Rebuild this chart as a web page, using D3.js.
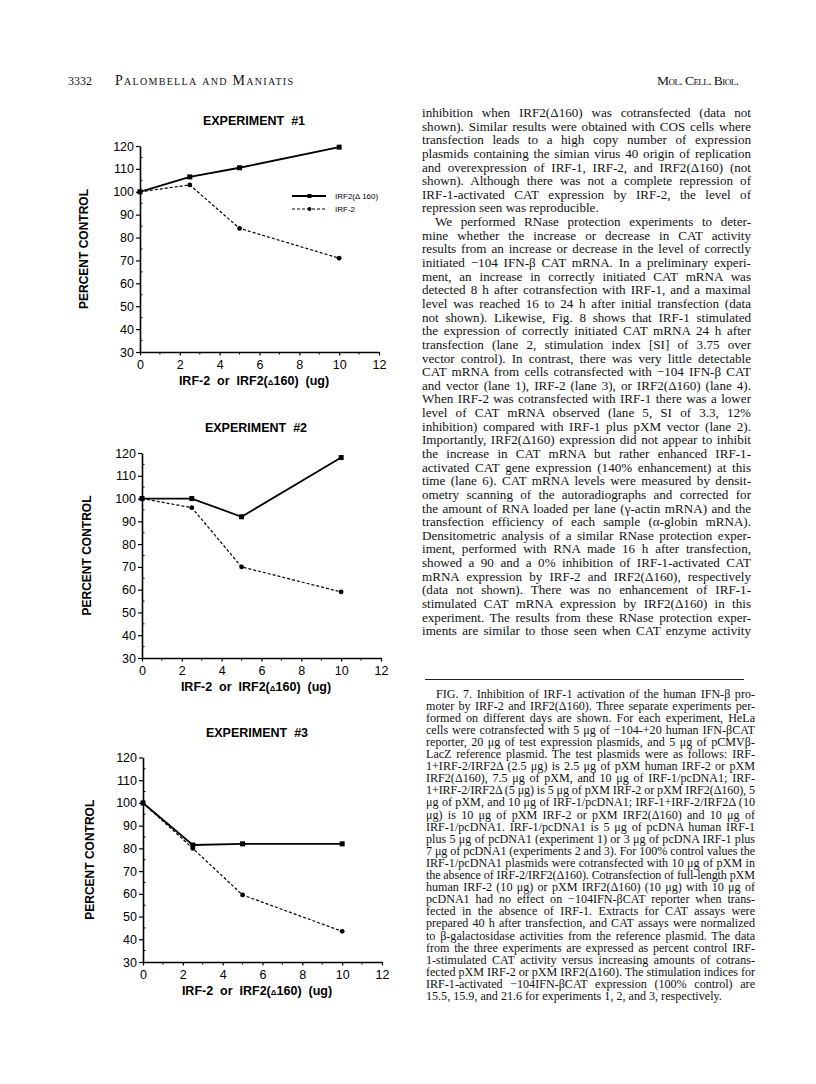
<!DOCTYPE html>
<html>
<head>
<meta charset="utf-8">
<style>
body { margin: 0; background: #fff; }
svg { display: block; }
.serif { font-family: "Liberation Serif", "Times New Roman", serif; fill: #111; }
.chart text { font-family: "Liberation Sans", Arial, Helvetica, sans-serif; fill: #000; }
.chart .domain { stroke: #000; stroke-width: 1.6px; }
.chart .tick line { stroke: #000; stroke-width: 1.2px; }
</style>
</head>
<body>
<svg width="816" height="1084"></svg>
<script src="https://d3js.org/d3.v7.min.js"></script>
<script>

// ---- data ----
var doses = [0, 2.5, 5, 10];               // ug of IRF-2 / IRF2(d160)

var exp1Delta = [100, 106.5, 110.5, 119.5];
var exp1Irf2  = [100, 103, 84, 71];
var exp2Delta = [100, 100, 92, 118];
var exp2Irf2  = [100, 96, 70, 59];
var exp3Delta = [100, 81.5, 82, 82];
var exp3Irf2  = [100, 80, 59.5, 43.5];

var xTicks = [0, 2, 4, 6, 8, 10, 12];
var xMinor = [1, 3, 5, 7, 9, 11];
var yTicks = [30, 40, 50, 60, 70, 80, 90, 100, 110, 120];
var yMinor = [35, 45, 55, 65, 75, 85, 95, 105, 115];

var titles = ["EXPERIMENT  #1", "EXPERIMENT  #2", "EXPERIMENT  #3"];
var legendKeys = ["IRF2(\u0394 160)", "IRF-2"];

// ---- text of the page ----
var bodyLines = [
  "inhibition when IRF2(\u0394160) was cotransfected (data not",
  "shown). Similar results were obtained with COS cells where",
  "transfection leads to a high copy number of expression",
  "plasmids containing the simian virus 40 origin of replication",
  "and overexpression of IRF-1, IRF-2, and IRF2(\u0394160) (not",
  "shown). Although there was not a complete repression of",
  "IRF-1-activated CAT expression by IRF-2, the level of",
  "repression seen was reproducible.",
  "We performed RNase protection experiments to deter-",
  "mine whether the increase or decrease in CAT activity",
  "results from an increase or decrease in the level of correctly",
  "initiated \u2212104 IFN-\u03b2 CAT mRNA. In a preliminary experi-",
  "ment, an increase in correctly initiated CAT mRNA was",
  "detected 8 h after cotransfection with IRF-1, and a maximal",
  "level was reached 16 to 24 h after initial transfection (data",
  "not shown). Likewise, Fig. 8 shows that IRF-1 stimulated",
  "the expression of correctly initiated CAT mRNA 24 h after",
  "transfection (lane 2, stimulation index [SI] of 3.75 over",
  "vector control). In contrast, there was very little detectable",
  "CAT mRNA from cells cotransfected with \u2212104 IFN-\u03b2 CAT",
  "and vector (lane 1), IRF-2 (lane 3), or IRF2(\u0394160) (lane 4).",
  "When IRF-2 was cotransfected with IRF-1 there was a lower",
  "level of CAT mRNA observed (lane 5, SI of 3.3, 12%",
  "inhibition) compared with IRF-1 plus pXM vector (lane 2).",
  "Importantly, IRF2(\u0394160) expression did not appear to inhibit",
  "the increase in CAT mRNA but rather enhanced IRF-1-",
  "activated CAT gene expression (140% enhancement) at this",
  "time (lane 6). CAT mRNA levels were measured by densit-",
  "ometry scanning of the autoradiographs and corrected for",
  "the amount of RNA loaded per lane (\u03b3-actin mRNA) and the",
  "transfection efficiency of each sample (\u03b1-globin mRNA).",
  "Densitometric analysis of a similar RNase protection exper-",
  "iment, performed with RNA made 16 h after transfection,",
  "showed a 90 and a 0% inhibition of IRF-1-activated CAT",
  "mRNA expression by IRF-2 and IRF2(\u0394160), respectively",
  "(data not shown). There was no enhancement of IRF-1-",
  "stimulated CAT mRNA expression by IRF2(\u0394160) in this",
  "experiment. The results from these RNase protection exper-",
  "iments are similar to those seen when CAT enzyme activity"
];
var bodyIndent = [8];          // lines that start a paragraph
var bodyLast = [7];            // lines that end a paragraph (not justified)

var captionLines = [
  "FIG. 7. Inhibition of IRF-1 activation of the human IFN-\u03b2 pro-",
  "moter by IRF-2 and IRF2(\u0394160). Three separate experiments per-",
  "formed on different days are shown. For each experiment, HeLa",
  "cells were cotransfected with 5 \u03bcg of \u2212104-+20 human IFN-\u03b2CAT",
  "reporter, 20 \u03bcg of test expression plasmids, and 5 \u03bcg of pCMV\u03b2-",
  "LacZ reference plasmid. The test plasmids were as follows: IRF-",
  "1+IRF-2/IRF2\u0394 (2.5 \u03bcg) is 2.5 \u03bcg of pXM human IRF-2 or pXM",
  "IRF2(\u0394160), 7.5 \u03bcg of pXM, and 10 \u03bcg of IRF-1/pcDNA1; IRF-",
  "1+IRF-2/IRF2\u0394 (5 \u03bcg) is 5 \u03bcg of pXM IRF-2 or pXM IRF2(\u0394160), 5",
  "\u03bcg of pXM, and 10 \u03bcg of IRF-1/pcDNA1; IRF-1+IRF-2/IRF2\u0394 (10",
  "\u03bcg) is 10 \u03bcg of pXM IRF-2 or pXM IRF2(\u0394160) and 10 \u03bcg of",
  "IRF-1/pcDNA1. IRF-1/pcDNA1 is 5 \u03bcg of pcDNA human IRF-1",
  "plus 5 \u03bcg of pcDNA1 (experiment 1) or 3 \u03bcg of pcDNA IRF-1 plus",
  "7 \u03bcg of pcDNA1 (experiments 2 and 3). For 100% control values the",
  "IRF-1/pcDNA1 plasmids were cotransfected with 10 \u03bcg of pXM in",
  "the absence of IRF-2/IRF2(\u0394160). Cotransfection of full-length pXM",
  "human IRF-2 (10 \u03bcg) or pXM IRF2(\u0394160) (10 \u03bcg) with 10 \u03bcg of",
  "pcDNA1 had no effect on \u2212104IFN-\u03b2CAT reporter when trans-",
  "fected in the absence of IRF-1. Extracts for CAT assays were",
  "prepared 40 h after transfection, and CAT assays were normalized",
  "to \u03b2-galactosidase activities from the reference plasmid. The data",
  "from the three experiments are expressed as percent control IRF-",
  "1-stimulated CAT activity versus increasing amounts of cotrans-",
  "fected pXM IRF-2 or pXM IRF2(\u0394160). The stimulation indices for",
  "IRF-1-activated \u2212104IFN-\u03b2CAT expression (100% control) are",
  "15.5, 15.9, and 21.6 for experiments 1, 2, and 3, respectively."
];

var svg = d3.select("svg");

// ---- running head ----
svg.append("text").attr("class", "serif")
    .attr("x", 68).attr("y", 85).style("font-size", "12px")
    .text("3332");
svg.append("text").attr("class", "serif")
    .attr("x", 115).attr("y", 85).style("font-size", "14px")
    .style("font-variant", "small-caps")
    .attr("textLength", 178).attr("lengthAdjust", "spacing")
    .text("Palombella and Maniatis");
svg.append("text").attr("class", "serif")
    .attr("x", 657).attr("y", 85).style("font-size", "13.5px")
    .style("font-variant", "small-caps")
    .attr("textLength", 82).attr("lengthAdjust", "spacing")
    .text("Mol. Cell. Biol.");

// ---- justified text blocks (extra room goes into the word gaps) ----
function textBlock(lines, opts) {
  var g = svg.append("g").attr("class", "serif").style("font-size", opts.size + "px");
  lines.forEach(function(line, i) {
    var indent = opts.indent.indexOf(i) >= 0 ? opts.indentW : 0;
    var t = g.append("text")
        .attr("x", opts.x0 + indent)
        .attr("y", opts.y0 + i * opts.lh)
        .text(line);
    var last = opts.last.indexOf(i) >= 0 || i === lines.length - 1 && opts.lastOpen;
    if (last) return;
    var target = opts.x1 - opts.x0 - indent;
    var natural = t.node().getComputedTextLength();
    var gaps = line.split(" ").length - 1;
    var extra = target - natural;
    if (extra > 0 && gaps > 0) {
      t.style("word-spacing", (extra / gaps) + "px");
    } else {
      t.attr("textLength", target).attr("lengthAdjust", "spacing");
    }
  });
}

textBlock(bodyLines, {
  x0: 422, x1: 751, y0: 117, lh: 13.64, size: 13.1,
  indent: bodyIndent, indentW: 13, last: bodyLast, lastOpen: false
});

svg.append("line")
    .attr("x1", 425).attr("x2", 744)
    .attr("y1", 679.5).attr("y2", 679.5)
    .attr("stroke", "#222").attr("stroke-width", 1);

textBlock(captionLines, {
  x0: 426, x1: 755, y0: 697.5, lh: 12.1, size: 12.1,
  indent: [0], indentW: 10, last: [], lastOpen: true
});

// ---- charts ----
var charts = [
  { left: 140, top: 146,   bottom: 352, ylab: 88, title: titles[0], delta: exp1Delta, irf2: exp1Irf2, legend: true },
  { left: 142, top: 453,   bottom: 658, ylab: 91, title: titles[1], delta: exp2Delta, irf2: exp2Irf2, legend: false },
  { left: 143, top: 757.5, bottom: 962, ylab: 94, title: titles[2], delta: exp3Delta, irf2: exp3Irf2, legend: false }
];

charts.forEach(function(c) {
  var x = d3.scaleLinear().domain([0, 12]).range([c.left, c.left + 239]);
  var y = d3.scaleLinear().domain([30, 120]).range([c.bottom, c.top]);
  var g = svg.append("g").attr("class", "chart");

  // y axis
  var ya = g.append("g")
      .attr("transform", "translate(" + c.left + ",0)")
      .call(d3.axisLeft(y).tickValues(yTicks).tickSize(4).tickSizeOuter(0).tickPadding(2));
  ya.selectAll("text").attr("font-size", null).attr("font-family", null).style("font-size", "12.5px");
  ya.selectAll(".ymin").data(yMinor).enter().append("line")
      .attr("class", "ymin")
      .attr("x1", 0).attr("x2", 2.5)
      .attr("y1", function(d) { return y(d); }).attr("y2", function(d) { return y(d); })
      .attr("stroke", "#000").attr("stroke-width", 1);

  // x axis
  var xa = g.append("g")
      .attr("transform", "translate(0," + c.bottom + ")")
      .call(d3.axisBottom(x).tickValues(xTicks).tickSize(3.5).tickSizeOuter(0).tickPadding(5));
  xa.selectAll("text").attr("font-size", null).attr("font-family", null).style("font-size", "12.5px");
  xa.selectAll(".xmin").data(xMinor).enter().append("line")
      .attr("class", "xmin")
      .attr("x1", function(d) { return x(d); }).attr("x2", function(d) { return x(d); })
      .attr("y1", 0).attr("y2", 2.5)
      .attr("stroke", "#000").attr("stroke-width", 1);

  // labels
  g.append("text")
      .attr("x", c.left + 114).attr("y", c.top - 21)
      .attr("text-anchor", "middle")
      .style("font-size", "12.5px").style("font-weight", "bold")
      .style("white-space", "pre")
      .text(c.title);

  g.append("text")
      .attr("transform", "translate(" + c.ylab + "," + (c.top + c.bottom) / 2 + ") rotate(-90)")
      .attr("text-anchor", "middle")
      .style("font-size", "12px").style("font-weight", "bold")
      .text("PERCENT CONTROL");

  var xl = g.append("text")
      .attr("x", c.left + 114).attr("y", c.bottom + 33)
      .attr("text-anchor", "middle")
      .style("font-size", "12.5px").style("font-weight", "bold")
      .style("white-space", "pre");
  xl.append("tspan").text("IRF-2  or  IRF2(");
  xl.append("tspan").style("font-size", "8px").text("\u0394");
  xl.append("tspan").text("160)  (ug)");

  // series
  var line = d3.line()
      .x(function(d) { return x(d[0]); })
      .y(function(d) { return y(d[1]); });
  var irf2Pts = d3.zip(doses, c.irf2);
  var deltaPts = d3.zip(doses, c.delta);

  g.append("path").datum(irf2Pts)
      .attr("d", line).attr("fill", "none")
      .attr("stroke", "#000").attr("stroke-width", 1.2)
      .attr("stroke-dasharray", "3,2");
  g.selectAll(".dot").data(irf2Pts).enter().append("circle")
      .attr("class", "dot")
      .attr("cx", function(d) { return x(d[0]); })
      .attr("cy", function(d) { return y(d[1]); })
      .attr("r", 2.4).attr("fill", "#000");

  g.append("path").datum(deltaPts)
      .attr("d", line).attr("fill", "none")
      .attr("stroke", "#000").attr("stroke-width", 1.8);
  g.selectAll(".sq").data(deltaPts).enter().append("rect")
      .attr("class", "sq")
      .attr("x", function(d) { return x(d[0]) - 2.5; })
      .attr("y", function(d) { return y(d[1]) - 2.5; })
      .attr("width", 5).attr("height", 5).attr("fill", "#000");

  if (c.legend) {
    var lg = g.append("g").attr("transform", "translate(292,196)");
    lg.append("line").attr("x1", 0).attr("x2", 34).attr("y1", 0).attr("y2", 0)
        .attr("stroke", "#000").attr("stroke-width", 1.8);
    lg.append("rect").attr("x", 15.5).attr("y", -2).attr("width", 4).attr("height", 4);
    lg.append("line").attr("x1", 0).attr("x2", 34).attr("y1", 13).attr("y2", 13)
        .attr("stroke", "#000").attr("stroke-width", 1.2).attr("stroke-dasharray", "3,2");
    lg.append("circle").attr("cx", 17.5).attr("cy", 13).attr("r", 2);
    lg.selectAll(".lk").data(legendKeys).enter().append("text")
        .attr("class", "lk")
        .attr("x", 43).attr("y", function(d, i) { return i * 13 + 3; })
        .style("font-size", "8px")
        .text(function(d) { return d; });
  }
});

</script>
</body>
</html>
